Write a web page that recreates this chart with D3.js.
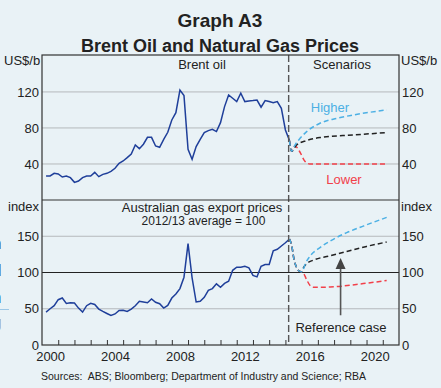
<!DOCTYPE html>
<html>
<head>
<meta charset="utf-8">
<script src="https://cdn.jsdelivr.net/npm/d3@7/dist/d3.min.js"></script>
<style>
body { margin: 0; background: #e9f2f6; }
svg { display: block; font-family: "Liberation Sans", Arial, sans-serif; }
</style>
</head>
<body>
<div id="svgWrapper"></div>
<script>

// quarterly values, first point = end of 2000 Q1
var firstQuarter = 2000.25;
var oilValues = [26.7, 26.7, 29.6, 29, 25.5, 26.7, 24.8, 19.6, 21, 24.8,
	26.7, 26.7, 30.7, 25.9, 28.5, 29.6, 31.8, 35.2, 40.7, 43.3,
	47, 51, 61, 57, 61.9, 69.6, 69.6, 60, 58.5, 67.4,
	75.2, 88.9, 97, 122, 115.9, 56.3, 45.2, 59.3, 67.4, 74.8,
	77, 78.5, 76, 85.9, 103.7, 116.7, 113, 109.3, 118.5, 109.3,
	110, 110.4, 111, 103, 110.4, 109.3, 108, 109.3, 101.8, 77.8, 66];
var gasValues = [45.4, 50, 54.2, 62.5, 64.8, 57.4, 58.3, 58, 50.9, 45.4,
	54.2, 57.4, 56, 49.5, 46.3, 43.5, 40.7, 42.8, 47.7, 48,
	46.3, 49.5, 54.2, 60.2, 59.3, 58.3, 63.4, 59, 57, 50.9,
	54.6, 64.8, 70.4, 77.8, 93.5, 139.8, 92.6, 59.3, 60.2, 65.7,
	75.4, 77.8, 84.3, 79.6, 85, 88, 103, 107.4, 107.4, 108.5,
	106.5, 96, 94, 108.5, 111, 111, 130, 132, 136.6, 141, 146];

// scenarios: [year, value]
var oilStart = [[2015.25, 66], [2015.38, 54]];
var oilHigher = [[2015.59, 61], [2015.9, 68.5], [2016.31, 75.9], [2017.13, 85.2], [2018.16, 90.7], [2019.18, 94.4], [2021.24, 100]];
var oilReference = [[2015.69, 61], [2016.31, 66], [2017.13, 69.3], [2019.18, 72.2], [2021.24, 74.8]];
var oilLower = [[2015.59, 60], [2015.9, 53], [2016.2, 43], [2016.5, 40], [2021.24, 40]];

var gasStart = [[2015.25, 146], [2015.39, 137], [2015.53, 118], [2015.7, 106.5], [2015.86, 101.8], [2016.0, 101]];
var gasHigher = [[2016.1, 104], [2016.21, 111], [2016.52, 122.7], [2017.13, 134.3], [2017.95, 145.8], [2018.78, 155], [2019.8, 164], [2021.24, 176]];
var gasReference = [[2016.1, 106], [2016.3, 112], [2016.72, 117], [2017.75, 123], [2018.78, 129], [2020.0, 136], [2021.24, 142]];
var gasLower = [[2016.1, 99.5], [2016.31, 90], [2016.52, 82], [2016.72, 79.6], [2017.75, 80], [2019.8, 84.7], [2021.24, 89]];

var forecastLine = 2015.2;
var oilTicks = [40, 80, 120];
var oilGrid = [40, 80, 120];
var gasTicks = [0, 50, 100, 150];
var gasGrid = [50, 150];
var yearTicks = d3.range(2001, 2022);
var yearLabels = [2000, 2004, 2008, 2012, 2016, 2020];
var arrowYear = 2018.4, arrowFrom = 41, arrowTo = 120;

function quarterly(values) {
	return values.map(function(v, i) { return [firstQuarter + i * 0.25, v]; });
}

function visualise() {
	var fullWidth = 441, fullHeight = 388;
	var left = 42, right = 399;

	var svg = d3.select("#svgWrapper").append("svg")
		.attr("width", fullWidth)
		.attr("height", fullHeight);

	svg.append("rect").attr("width", fullWidth).attr("height", fullHeight).attr("fill", "#e9f2f6");

	// bits of the page text cut off at the left edge
	var edge = [["n", 249, "#222"], ["d", 276, "#222"], ["h", 303, "#2a5a9c"], ["g", 328, "#8a6a22"], ["t", 355, "#2f6fc4"], [",", 380, "#333"]];
	svg.selectAll("text.edge").data(edge).enter().append("text")
		.attr("class", "edge").attr("x", -8).attr("y", d => d[1])
		.attr("font-size", 17).attr("fill", d => d[2]).text(d => d[0]);
	svg.append("line").attr("x1", 0).attr("x2", 9).attr("y1", 309.5).attr("y2", 309.5)
		.attr("stroke", "#9cc7e6").attr("stroke-width", 1);

	var xScale = d3.scaleLinear().domain([2000, 2022]).range([left, right]);
	var yOil = d3.scaleLinear().domain([0, 161]).range([200, 55]);
	var yGas = d3.scaleLinear().domain([0, 200]).range([345, 200]);

	// grid lines
	svg.selectAll("line.oilgrid").data(oilGrid).enter().append("line")
		.attr("x1", left).attr("x2", right)
		.attr("y1", d => yOil(d)).attr("y2", d => yOil(d))
		.attr("stroke", "#b5b9bc").attr("stroke-width", 1);
	svg.selectAll("line.gasgrid").data(gasGrid).enter().append("line")
		.attr("x1", left).attr("x2", right)
		.attr("y1", d => yGas(d)).attr("y2", d => yGas(d))
		.attr("stroke", "#b5b9bc").attr("stroke-width", 1);
	svg.append("line").attr("x1", left).attr("x2", right)
		.attr("y1", yGas(100)).attr("y2", yGas(100))
		.attr("stroke", "#222").attr("stroke-width", 1.2);

	var oilLine = d3.line().x(d => xScale(d[0])).y(d => yOil(d[1]));
	var gasLine = d3.line().x(d => xScale(d[0])).y(d => yGas(d[1]));
	var oilCurve = d3.line().x(d => xScale(d[0])).y(d => yOil(d[1])).curve(d3.curveMonotoneX);
	var gasCurve = d3.line().x(d => xScale(d[0])).y(d => yGas(d[1])).curve(d3.curveMonotoneX);

	var dark = "#1f3f9a", light = "#4cb0e4", red = "#f2404a", black = "#222";

	svg.append("path").attr("d", oilLine(quarterly(oilValues)))
		.attr("fill", "none").attr("stroke", dark).attr("stroke-width", 1.5);
	svg.append("path").attr("d", gasLine(quarterly(gasValues)))
		.attr("fill", "none").attr("stroke", dark).attr("stroke-width", 1.5);

	// scenarios
	var scen = [
		[oilCurve, oilStart.concat(oilLower), red],
		[oilCurve, oilStart.concat(oilReference), black],
		[oilCurve, oilStart.concat(oilHigher), light],
		[gasCurve, gasStart.concat(gasLower), red],
		[gasCurve, gasStart.concat(gasReference), black],
		[gasCurve, gasStart.concat(gasHigher), light]
	];
	scen.forEach(function(s) {
		svg.append("path").attr("d", s[0](s[1]))
			.attr("fill", "none").attr("stroke", s[2])
			.attr("stroke-width", 1.5).attr("stroke-dasharray", "5,3");
	});

	// forecast divider
	svg.append("line")
		.attr("x1", xScale(forecastLine)).attr("x2", xScale(forecastLine))
		.attr("y1", 55).attr("y2", 345)
		.attr("stroke", "#555").attr("stroke-width", 1.4).attr("stroke-dasharray", "7,3");

	// panel borders
	svg.append("rect").attr("x", left).attr("y", 55).attr("width", right - left).attr("height", 290)
		.attr("fill", "none").attr("stroke", "#333").attr("stroke-width", 1.2);
	svg.append("line").attr("x1", left).attr("x2", right).attr("y1", 200).attr("y2", 200)
		.attr("stroke", "#333").attr("stroke-width", 1.2);

	// x axis
	var xAxis = svg.append("g").attr("transform", "translate(0,345)")
		.call(d3.axisBottom(xScale).tickValues(yearTicks).tickSize(-5).tickFormat(""));
	xAxis.select(".domain").remove();
	xAxis.selectAll("line").attr("stroke", "#333");

	var xLab = svg.append("g").attr("transform", "translate(0,345)")
		.call(d3.axisBottom(xScale).tickValues(yearLabels.map(y => y + 0.5)).tickSize(0).tickPadding(7)
			.tickFormat(d => String(Math.floor(d))));
	xLab.select(".domain").remove();

	// y axes
	function yAxis(gen, x) {
		var g = svg.append("g").attr("transform", "translate(" + x + ",0)").call(gen);
		g.select(".domain").remove();
		return g;
	}
	yAxis(d3.axisLeft(yOil).tickValues(oilTicks).tickSize(0).tickPadding(3), left);
	yAxis(d3.axisRight(yOil).tickValues(oilTicks).tickSize(0).tickPadding(3), right);
	yAxis(d3.axisLeft(yGas).tickValues(gasTicks).tickSize(0).tickPadding(3), left);
	yAxis(d3.axisRight(yGas).tickValues(gasTicks).tickSize(0).tickPadding(3), right);
	svg.selectAll(".tick text").attr("font-size", 13).attr("fill", "#222")
		.attr("font-family", "Liberation Sans, Arial, sans-serif");

	// texts
	function txt(x, y, s, size, anchor, opts) {
		var t = svg.append("text").attr("x", x).attr("y", y)
			.attr("font-size", size).attr("text-anchor", anchor || "start")
			.attr("fill", "#222").text(s);
		if (opts) Object.keys(opts).forEach(k => t.attr(k, opts[k]));
		return t;
	}
	txt(220, 27, "Graph A3", 19, "middle", {"font-weight": "bold"});
	txt(220, 51.5, "Brent Oil and Natural Gas Prices", 18, "middle", {"font-weight": "bold"});
	txt(4, 65, "US$/b", 13);
	txt(401, 65, "US$/b", 13);
	txt(8, 211, "index", 13);
	txt(401, 211, "index", 13);
	txt(202, 69, "Brent oil", 13, "middle");
	txt(342, 69, "Scenarios", 13, "middle");
	txt(202, 212, "Australian gas export prices", 13, "middle");
	txt(203.5, 224.5, "2012/13 average = 100", 12, "middle");
	txt(330, 112, "Higher", 13, "middle", {fill: light});
	txt(344, 184, "Lower", 13, "middle", {fill: red});
	txt(341, 332, "Reference case", 13, "middle");
	txt(41, 380, "Sources:  ABS; Bloomberg; Department of Industry and Science; RBA", 10.5, "start").style("white-space", "pre");

	// arrow to reference case
	var ax = xScale(arrowYear);
	svg.append("line").attr("x1", ax).attr("x2", ax)
		.attr("y1", yGas(arrowFrom)).attr("y2", yGas(arrowTo) + 8)
		.attr("stroke", "#555").attr("stroke-width", 1.6);
	svg.append("path")
		.attr("d", "M" + ax + "," + yGas(arrowTo) + "L" + (ax - 5) + "," + (yGas(arrowTo) + 11) + "L" + (ax + 5) + "," + (yGas(arrowTo) + 11) + "Z")
		.attr("fill", "#444");
}

visualise();
</script>
</body>
</html>
